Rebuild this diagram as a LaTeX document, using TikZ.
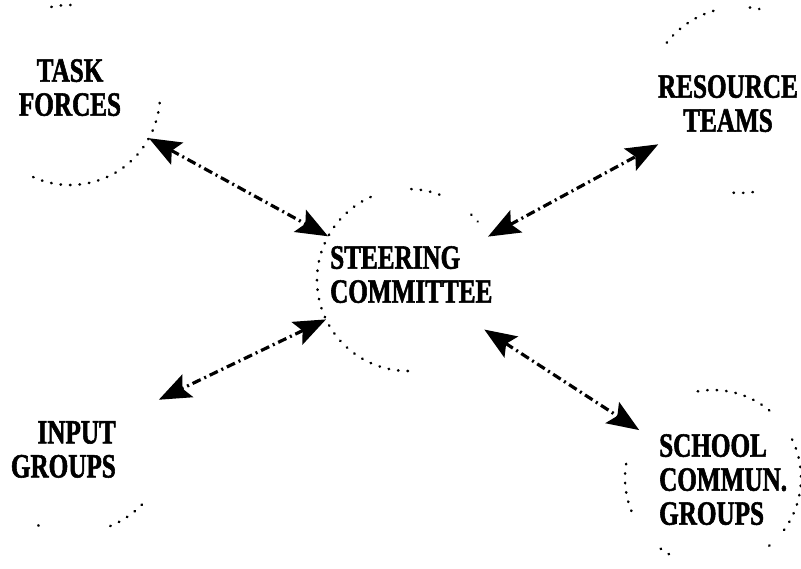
\documentclass[tikz,border=0pt]{standalone}
\usepackage{fontspec}
\newfontfamily\scanfont[FakeStretch=0.74, FakeBold=1.6]{Liberation Serif Bold}
\usetikzlibrary{arrows.meta}

\begin{document}
\begin{tikzpicture}[x=1pt,y=-1pt,
    grouptext/.style={font=\scanfont\bfseries\fontsize{34}{34}\selectfont, inner sep=0pt},
    ring/.style={circle, inner sep=0pt, outer sep=0pt, minimum size=#1},
    dots/.style={line width=2.6pt, line cap=round, dash pattern=on 0.5pt off 9pt},
    link/.style={{Stealth[length=32pt,width=25pt,inset=6pt]}-{Stealth[length=32pt,width=25pt,inset=6pt]},
      line width=3.2pt, dash pattern=on 9pt off 4pt on 2pt off 4pt}]
      \useasboundingbox (0,0) rectangle (801,569);
      % rings round the groups
      \node[ring=180pt] (taskring) at (70,95) {};
      \node[ring=182pt] (steerring) at (408,280) {};
      \node[ring=186pt] (resring) at (740,100) {};
      \node[ring=186pt] (inputring) at (75,440) {};
      \node[ring=176pt] (schoolring) at (713,478) {};
      % texts
      \node[grouptext, anchor=north, align=center] (task) at (70,59) {TASK\\FORCES};
      \node[grouptext, anchor=north west, align=left] (steer) at (330,246) {STEERING\\COMMITTEE};
      \node[grouptext, anchor=north, align=center] (res) at (728,75) {RESOURCE\\TEAMS};
      \node[grouptext, anchor=north east, align=right] (input) at (116,421) {INPUT\\GROUPS};
      \node[grouptext, anchor=north west, align=left] (school) at (659,434) {SCHOOL\\COMMUN.\\GROUPS};
      % what is left of the dotted rings
      \draw[dots] (taskring.center) ++(-102:90) arc (-102:-84:90);
      \draw[dots] (taskring.center) ++(5:90) arc (5:115:90);
      \draw[dots] (steerring.center) ++(90:91) arc (90:248:91);
      \draw[dots] (steerring.center) ++(-88:91) arc (-88:-68:91);
      \draw[dots] (steerring.center) ++(-46:91) arc (-46:-40:91);
      \draw[dots] (resring.center) ++(-142:93) arc (-142:-105:93);
      \draw[dots] (resring.center) ++(-84:93) arc (-84:-78:93);
      \draw[dots] (resring.center) ++(82:93) arc (82:96:93);
      \draw[dots] (inputring.center) ++(44:93) arc (44:72:93);
      \draw[dots] (inputring.center) ++(113:93) arc (113:118:93);
      \draw[dots] (schoolring.center) ++(-100:88) arc (-100:-48:88);
      \draw[dots] (schoolring.center) ++(-26:88) arc (-26:38:88);
      \draw[dots] (schoolring.center) ++(50:88) arc (50:56:88);
      \draw[dots] (schoolring.center) ++(120:88) arc (120:130:88);
      \draw[dots] (schoolring.center) ++(158:88) arc (158:195:88);
      % links
      \draw[link] (taskring) -- (steerring);
      \draw[link] (steerring) -- (resring);
      \draw[link] (steerring) -- (inputring);
      \draw[link] (steerring) -- (schoolring);
    \end{tikzpicture}
\end{document}
